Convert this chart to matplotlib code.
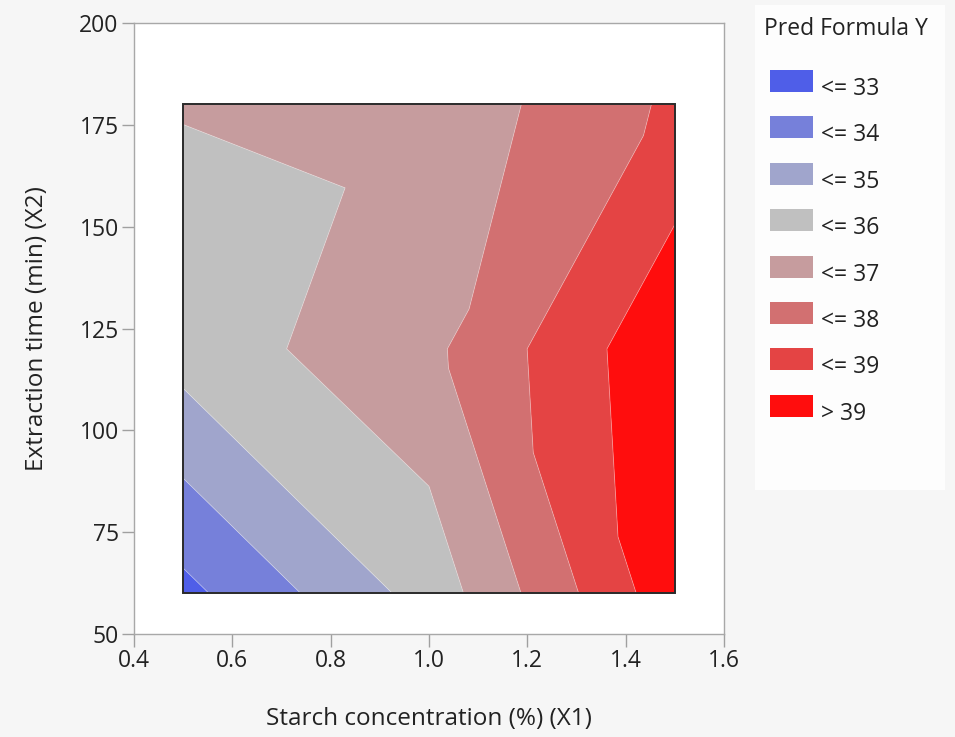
import numpy as np
import matplotlib
matplotlib.use("Agg")
import matplotlib.pyplot as plt
import matplotlib.tri as mtri
from matplotlib.patches import Rectangle

# ---- data (design grid and predicted values) ----
x_levels = [0.5, 1.0, 1.5]          # Starch concentration (%)
y_levels = [60, 120, 180]           # Extraction time (min)
pred_y60 = [32.72, 35.40, 39.67]
pred_y120 = [35.44, 36.77, 39.85]
pred_y180 = [36.05, 36.29, 38.18]

contour_levels = [33, 34, 35, 36, 37, 38, 39]
legend_labels = ["<= 33", "<= 34", "<= 35", "<= 36", "<= 37", "<= 38", "<= 39", "> 39"]
fill_colors = ["#4f5ee8", "#7680da", "#a0a5cc", "#c0c0c0",
               "#c69c9e", "#d27071", "#e44444", "#ff0d0d"]

x_ticks = [0.4, 0.6, 0.8, 1.0, 1.2, 1.4, 1.6]
y_ticks = [50, 75, 100, 125, 150, 175, 200]

plt.rcParams['font.family'] = ['Open Sans', 'DejaVu Sans']
FS = 16.5
FS_LAB = 17.5
TXT = "#222222"

# build triangulation over the 3x3 grid
X, Y = np.meshgrid(x_levels, y_levels)
Z = np.array([pred_y60, pred_y120, pred_y180])
xs, ys, zs = X.ravel(), Y.ravel(), Z.ravel()
def idx(i, j):  # i: x index, j: y index
    return j * len(x_levels) + i
triangles = [
    [idx(0, 0), idx(1, 0), idx(0, 1)],
    [idx(0, 1), idx(1, 0), idx(1, 1)],
    [idx(1, 0), idx(2, 0), idx(1, 1)],
    [idx(1, 1), idx(2, 0), idx(2, 1)],
    [idx(0, 1), idx(0, 2), idx(1, 2)],
    [idx(0, 1), idx(1, 2), idx(1, 1)],
    [idx(1, 1), idx(1, 2), idx(2, 2)],
    [idx(1, 1), idx(2, 2), idx(2, 1)],
]
tri = mtri.Triangulation(xs, ys, triangles)

W, H = 955, 737
fig = plt.figure(figsize=(W / 100, H / 100), dpi=100)
fig.patch.set_facecolor("#f6f6f6")

ax = fig.add_axes([134 / W, 1 - 634 / H, 590 / W, 611 / H])
ax.set_facecolor("white")

levels = [zs.min() - 1] + contour_levels + [zs.max() + 1]
ax.tricontourf(tri, zs, levels=levels, colors=fill_colors, antialiased=True)
ax.tricontour(tri, zs, levels=contour_levels, colors="white", linewidths=0.6, alpha=0.35)
ax.add_patch(Rectangle((xs.min(), ys.min()), xs.max() - xs.min(), ys.max() - ys.min(),
                       fill=False, edgecolor="#2a2a2a", linewidth=1.4, zorder=5))

ax.set_xlim(x_ticks[0], x_ticks[-1])
ax.set_ylim(y_ticks[0], y_ticks[-1])
ax.set_xticks(x_ticks)
ax.set_xticklabels([f"{v:.1f}" for v in x_ticks])
ax.set_yticks(y_ticks)
ax.set_yticklabels([str(v) for v in y_ticks])
for s in ax.spines.values():
    s.set_color("#a8a8a8")
    s.set_linewidth(1.0)
ax.tick_params(direction="out", length=9, width=1, color="#a0a0a0",
               labelsize=FS, labelcolor=TXT, pad=2)
ax.set_xlabel("Starch concentration (%) (X1)", fontsize=FS_LAB, color=TXT, labelpad=24)
ax.set_ylabel("Extraction time (min) (X2)", fontsize=FS_LAB, color=TXT, labelpad=22)

# legend panel
fig.patches.append(Rectangle((755 / W, 1 - 490 / H), 190 / W, 485 / H,
                             transform=fig.transFigure, facecolor="#fdfdfd",
                             edgecolor="none", zorder=0))
fig.text(764 / W, 1 - 29 / H, "Pred Formula Y", fontsize=FS, color=TXT,
         va="center", ha="left")
for k, (lab, col) in enumerate(zip(legend_labels, fill_colors)):
    yc = 81 + k * 46.4
    fig.patches.append(Rectangle((770 / W, 1 - (yc + 11) / H), 43 / W, 22 / H,
                                 transform=fig.transFigure, facecolor=col,
                                 edgecolor="none"))
    fig.text(821 / W, 1 - (yc + 8) / H, lab, fontsize=FS, color=TXT,
             va="center", ha="left")

fig.savefig("out.png", dpi=100, facecolor=fig.get_facecolor())
